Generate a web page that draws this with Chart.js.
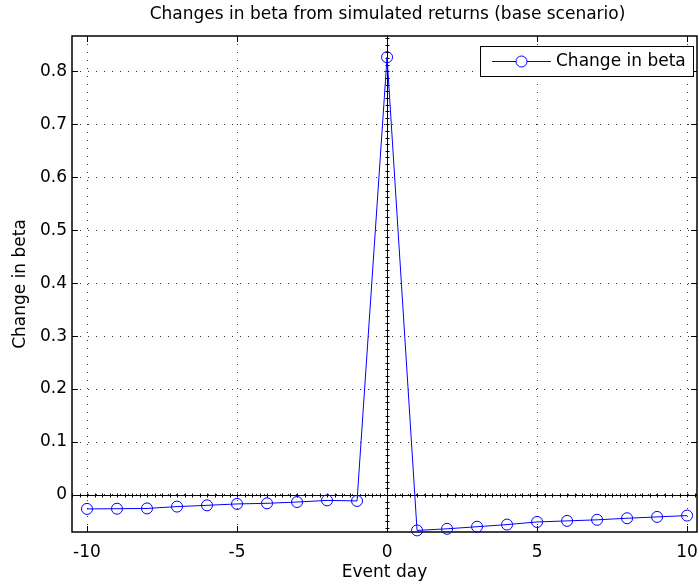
<!DOCTYPE html>
<html>
<head>
<meta charset="utf-8">
<script src="https://cdn.jsdelivr.net/npm/chart.js@4.4.1/dist/chart.umd.min.js"></script>
<style>
  html, body { margin: 0; padding: 0; background: #fff; }
  #wrap { width: 699px; height: 585px; }
</style>
</head>
<body>
<div id="wrap"><canvas id="betaChart" width="699" height="585"></canvas></div>
<script>
// Chart data
const eventDays = [-10, -9, -8, -7, -6, -5, -4, -3, -2, -1, 0, 1, 2, 3, 4, 5, 6, 7, 8, 9, 10];
const betaChange = [-0.0264, -0.026, -0.0255, -0.022, -0.0196, -0.017, -0.0158, -0.0134, -0.0103, -0.0113,
  0.827, -0.067, -0.064, -0.060, -0.056, -0.051, -0.049, -0.047, -0.044, -0.0415, -0.039];
const xTicks = [-10, -5, 0, 5, 10];
const yTicks = [0, 0.1, 0.2, 0.3, 0.4, 0.5, 0.6, 0.7, 0.8];

const chartTitle = 'Changes in beta from simulated returns (base scenario)';
const seriesLabel = 'Change in beta';
const xTitle = 'Event day';
const yTitle = 'Change in beta';

const FONT = 'DejaVu Sans';
const FONT_SIZE = 17;
const LINE_BLUE = '#0000ff';

Chart.defaults.font.family = FONT;
Chart.defaults.font.size = FONT_SIZE;
Chart.defaults.color = '#000';

// MATLAB-like frame: zero axes, box, inner ticks, title and legend
const frame = {
  id: 'matlabFrame',
  beforeDatasetsDraw(chart) {
    const { ctx, chartArea: a, scales: { x, y } } = chart;
    ctx.save();
    ctx.strokeStyle = '#000';
    ctx.lineWidth = 1;

    // axes through the origin
    const x0 = Math.round(x.getPixelForValue(0)) + 0.5;
    const y0 = Math.round(y.getPixelForValue(0)) + 0.5;
    ctx.beginPath();
    ctx.moveTo(a.left, y0); ctx.lineTo(a.right, y0);
    ctx.moveTo(x0, a.top); ctx.lineTo(x0, a.bottom);

    // small ticks on those axes
    for (let v = Math.ceil(x.min / 0.25) * 0.25; v <= x.max; v += 0.25) {
      const px = Math.round(x.getPixelForValue(v)) + 0.5;
      ctx.moveTo(px, y0 - 2); ctx.lineTo(px, y0 + 2);
    }
    for (let v = Math.ceil(y.min / 0.0125) * 0.0125; v <= y.max; v += 0.0125) {
      const py = Math.round(y.getPixelForValue(v)) + 0.5;
      ctx.moveTo(x0 - 2, py); ctx.lineTo(x0 + 2, py);
    }
    ctx.stroke();

    // inner major ticks on all four sides
    ctx.beginPath();
    xTicks.forEach(v => {
      const px = Math.round(x.getPixelForValue(v)) + 0.5;
      ctx.moveTo(px, a.bottom); ctx.lineTo(px, a.bottom - 6);
      ctx.moveTo(px, a.top); ctx.lineTo(px, a.top + 6);
    });
    yTicks.forEach(v => {
      const py = Math.round(y.getPixelForValue(v)) + 0.5;
      ctx.moveTo(a.left, py); ctx.lineTo(a.left + 6, py);
      ctx.moveTo(a.right, py); ctx.lineTo(a.right - 6, py);
    });
    ctx.stroke();

    // box
    ctx.lineWidth = 1.5;
    ctx.strokeRect(a.left, a.top, a.right - a.left, a.bottom - a.top);
    ctx.restore();
  },
  afterDraw(chart) {
    const { ctx, chartArea: a } = chart;
    ctx.save();

    // title
    ctx.fillStyle = '#000';
    ctx.font = FONT_SIZE + 'px "' + FONT + '"';
    ctx.textAlign = 'center';
    ctx.textBaseline = 'middle';
    ctx.fillText(chartTitle, (a.left + a.right) / 2 + 3, 15);

    // legend box
    const lx = a.right - 217, ly = a.top + 10, lw = 213, lh = 30;
    ctx.fillStyle = '#fff';
    ctx.fillRect(lx, ly, lw, lh);
    ctx.strokeStyle = '#000';
    ctx.lineWidth = 1;
    ctx.strokeRect(lx + 0.5, ly + 0.5, lw, lh);

    const cy = ly + 15.5;
    ctx.strokeStyle = LINE_BLUE;
    ctx.beginPath();
    ctx.moveTo(lx + 12, cy); ctx.lineTo(lx + 71, cy);
    ctx.stroke();
    ctx.beginPath();
    ctx.fillStyle = '#fff';
    ctx.arc(lx + 41.5, cy, 5.5, 0, Math.PI * 2);
    ctx.fill();
    ctx.stroke();

    ctx.fillStyle = '#000';
    ctx.textAlign = 'left';
    ctx.fillText(seriesLabel, lx + 76, cy);
    ctx.restore();
  }
};

const ctx = document.getElementById('betaChart');

new Chart(ctx, {
  type: 'line',
  data: {
    datasets: [{
      label: seriesLabel,
      data: eventDays.map((d, i) => ({ x: d, y: betaChange[i] })),
      borderColor: LINE_BLUE,
      borderWidth: 1,
      backgroundColor: 'rgba(0,0,0,0)',
      pointStyle: 'circle',
      pointRadius: 5.5,
      pointBorderWidth: 1,
      pointBorderColor: LINE_BLUE,
      pointBackgroundColor: 'rgba(0,0,0,0)',
      tension: 0,
      clip: false
    }]
  },
  options: {
    responsive: false,
    animation: false,
    devicePixelRatio: 1,
    // no auto padding for the point markers, the plot box is placed by hand
    layout: { autoPadding: false, padding: { top: 36, right: 2, left: 0, bottom: 0 } },
    plugins: {
      legend: { display: false },
      tooltip: { enabled: false },
      title: { display: false }
    },
    scales: {
      x: {
        type: 'linear',
        min: -10.5,
        max: 10.33,
        afterBuildTicks: s => { s.ticks = xTicks.map(v => ({ value: v })); },
        afterFit: s => {
          s.height = 53;
          s.paddingLeft = 0;
          s.paddingRight = 0;
        },
        grid: { color: '#333', lineWidth: 1, drawTicks: false },
        border: { display: false, dash: [1, 7] },
        ticks: { padding: 10, color: '#000' },
        title: { display: true, text: xTitle, color: '#000', padding: { top: 0, bottom: 2 } }
      },
      y: {
        type: 'linear',
        min: -0.07,
        max: 0.867,
        afterBuildTicks: s => { s.ticks = yTicks.map(v => ({ value: v })); },
        afterFit: s => {
          s.width = 72;
          s.paddingTop = 0;
          s.paddingBottom = 0;
        },
        grid: { color: '#333', lineWidth: 1, drawTicks: false },
        border: { display: false, dash: [1, 7] },
        ticks: {
          padding: 5,
          color: '#000',
          callback: v => (v === 0 ? '0' : v.toFixed(1))
        },
        title: { display: true, text: yTitle, color: '#000', padding: { top: 10, bottom: 0 } }
      }
    }
  },
  plugins: [frame]
});
</script>
</body>
</html>
